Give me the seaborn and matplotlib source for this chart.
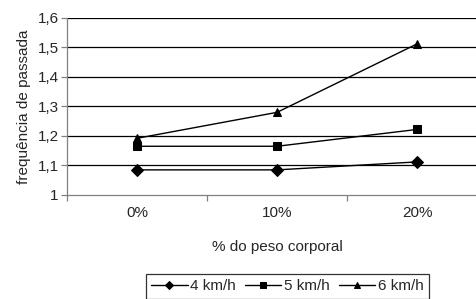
import pandas as pd
import matplotlib.pyplot as plt
from matplotlib.ticker import FixedLocator
import seaborn as sns

sns.set_style('white')
plt.rcParams['font.family'] = ['Liberation Sans', 'DejaVu Sans']

# dados
cargas = ['0%', '10%', '20%']
v4 = [1.085, 1.085, 1.112]
v5 = [1.165, 1.165, 1.222]
v6 = [1.192, 1.280, 1.512]
series = ['4 km/h', '5 km/h', '6 km/h']
yticks = [1.0, 1.1, 1.2, 1.3, 1.4, 1.5, 1.6]
ylabels = ['1', '1,1', '1,2', '1,3', '1,4', '1,5', '1,6']

df = pd.DataFrame({
    'pos': list(range(3)) * 3,
    'freq': v4 + v5 + v6,
    'vel': [s for s in series for _ in range(3)],
})

fs = 11
fig = plt.figure(figsize=(4.77, 2.99), dpi=100)
ax = fig.add_axes([0.1405, 0.348, 0.8805, 0.592])

for y in yticks[1:]:
    ax.axhline(y, color='black', lw=0.9, zorder=0)

sns.lineplot(data=df, x='pos', y='freq', hue='vel', style='vel',
             palette=['black'] * 3, markers=['D', 's', '^'], dashes=False,
             markersize=6, linewidth=1, markeredgecolor='black', ax=ax,
             legend=True)

ax.set_xlim(-0.5, 2.5)
ax.set_ylim(1.0, 1.6)
ax.set_xticks(range(3))
ax.set_xticklabels(cargas, fontsize=fs)
ax.xaxis.set_minor_locator(FixedLocator([-0.5, 0.5, 1.5, 2.5]))
ax.tick_params(axis='x', which='major', length=0, pad=8)
ax.tick_params(axis='x', which='minor', length=4, color='#808080', width=0.9, direction='out', bottom=True)
ax.set_yticks(yticks)
ax.set_yticklabels(ylabels, fontsize=fs)
ax.tick_params(axis='y', length=4, color='#808080', width=0.9, direction='out', left=True, pad=2)

for s in ['top', 'right']:
    ax.spines[s].set_visible(False)
for s in ['left', 'bottom']:
    ax.spines[s].set_color('#808080')
    ax.spines[s].set_linewidth(0.9)

ax.set_xlabel('% do peso corporal', fontsize=fs, labelpad=14)
ax.set_ylabel('frequência de passada', fontsize=fs, labelpad=5)

handles, labels = ax.get_legend_handles_labels()
ax.get_legend().remove()
leg = fig.legend(handles, labels, loc='lower center', bbox_to_anchor=(0.602, -0.025),
                 ncol=3, frameon=True, fancybox=False, edgecolor='black',
                 fontsize=fs, handlelength=2.4, handletextpad=0.15, columnspacing=0.6,
                 borderpad=0.35, markerscale=0.75)
leg.get_frame().set_linewidth(0.9)

fig.savefig('out.png', dpi=100)
